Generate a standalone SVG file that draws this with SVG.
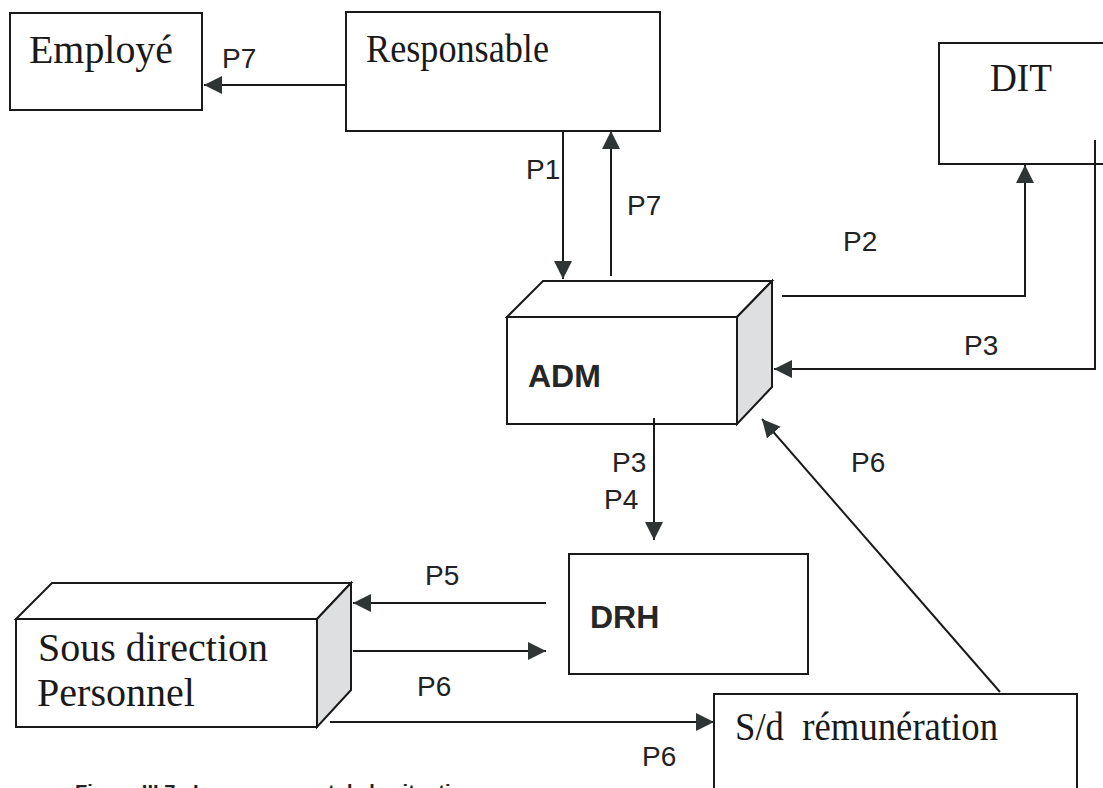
<svg xmlns="http://www.w3.org/2000/svg" width="1103" height="788" viewBox="0 0 1103 788">
  <style>
    .box { fill: #ffffff; stroke: #1a1a1a; stroke-width: 2; }
    .side { fill: #dedfe1; stroke: #1a1a1a; stroke-width: 2; stroke-linejoin: miter; }
    .title { font-family: "Liberation Serif", "Times New Roman", serif; font-size: 39px; fill: #1a1a1a; }
    .bold { font-family: "Liberation Sans", Arial, sans-serif; font-weight: bold; font-size: 32px; fill: #262626; }
    .lbl { font-family: "Liberation Sans", Arial, sans-serif; font-size: 28px; fill: #222222; }
    .cap { font-family: "Liberation Sans", Arial, sans-serif; font-weight: bold; font-size: 21px; fill: #222222; }
    .wire { fill: none; stroke: #1a1a1a; stroke-width: 2; marker-end: url(#arrow); }
  </style>
  <defs>
    <marker id="arrow" markerUnits="userSpaceOnUse" markerWidth="20" markerHeight="20" refX="18" refY="9" orient="auto">
      <path d="M0,0 L18,9 L0,18 z" fill="#2f3434"/>
    </marker>
  </defs>

  <rect width="1103" height="788" fill="#ffffff"/>

  <!-- plain boxes -->
  <g id="employe">
    <rect class="box" x="10" y="13" width="192" height="97"/>
    <text class="title" x="29" y="63" textLength="144" lengthAdjust="spacingAndGlyphs">Employé</text>
  </g>

  <g id="responsable">
    <rect class="box" x="346" y="12" width="314" height="119"/>
    <text class="title" x="366" y="62" textLength="183" lengthAdjust="spacingAndGlyphs">Responsable</text>
  </g>

  <g id="dit">
    <rect class="box" x="939" y="43" width="175" height="121"/>
    <text class="title" x="990" y="91" textLength="62" lengthAdjust="spacingAndGlyphs">DIT</text>
  </g>

  <!-- ADM drawn as a block with depth -->
  <g id="adm">
    <polygon class="box" points="507,317 543,281 772,281 737,317"/>
    <polygon class="side" points="737,317 772,281 772,387 737,424"/>
    <rect class="box" x="507" y="317" width="230" height="107"/>
    <text class="bold" x="528" y="387">ADM</text>
  </g>

  <g id="drh">
    <rect class="box" x="569" y="554" width="239" height="120"/>
    <text class="bold" x="590" y="628">DRH</text>
  </g>

  <g id="sous-direction-personnel">
    <polygon class="box" points="16,619 52,583 351,583 317,619"/>
    <polygon class="side" points="317,619 351,583 351,690 317,727"/>
    <rect class="box" x="16" y="619" width="301" height="108"/>
    <text class="title" x="38" y="661" textLength="230" lengthAdjust="spacingAndGlyphs">Sous direction</text>
    <text class="title" x="37" y="706" textLength="158" lengthAdjust="spacingAndGlyphs">Personnel</text>
  </g>

  <g id="sd-remuneration">
    <rect class="box" x="714" y="694" width="363" height="110"/>
    <text class="title" x="735" y="740" xml:space="preserve" textLength="263" lengthAdjust="spacingAndGlyphs">S/d  rémunération</text>
  </g>

  <!-- connectors -->
  <g id="connectors">
    <path class="wire" d="M346,85 H204"/>
    <path class="wire" d="M563,131 V279"/>
    <path class="wire" d="M611,276 V131"/>
    <path class="wire" d="M782,296 H1025 V165"/>
    <path class="wire" d="M1095,140 V369 H774"/>
    <path class="wire" d="M654,418 V540"/>
    <path class="wire" d="M546,603 H353"/>
    <path class="wire" d="M353,651 H546"/>
    <path class="wire" d="M330,722 H714"/>
    <path class="wire" d="M1000,692 L762,419"/>
  </g>

  <!-- flow labels -->
  <g id="labels">
    <text class="lbl" x="222" y="68">P7</text>
    <text class="lbl" x="526" y="179">P1</text>
    <text class="lbl" x="627" y="215">P7</text>
    <text class="lbl" x="843" y="251">P2</text>
    <text class="lbl" x="964" y="355">P3</text>
    <text class="lbl" x="612" y="472">P3</text>
    <text class="lbl" x="604" y="509">P4</text>
    <text class="lbl" x="851" y="472">P6</text>
    <text class="lbl" x="425" y="585">P5</text>
    <text class="lbl" x="417" y="696">P6</text>
    <text class="lbl" x="642" y="766">P6</text>
  </g>

  <!-- caption, cut by the lower edge -->
  <text class="cap" x="75" y="799" textLength="400" lengthAdjust="spacingAndGlyphs">Figure III.7 : Le mouvement de la situation</text>
</svg>
